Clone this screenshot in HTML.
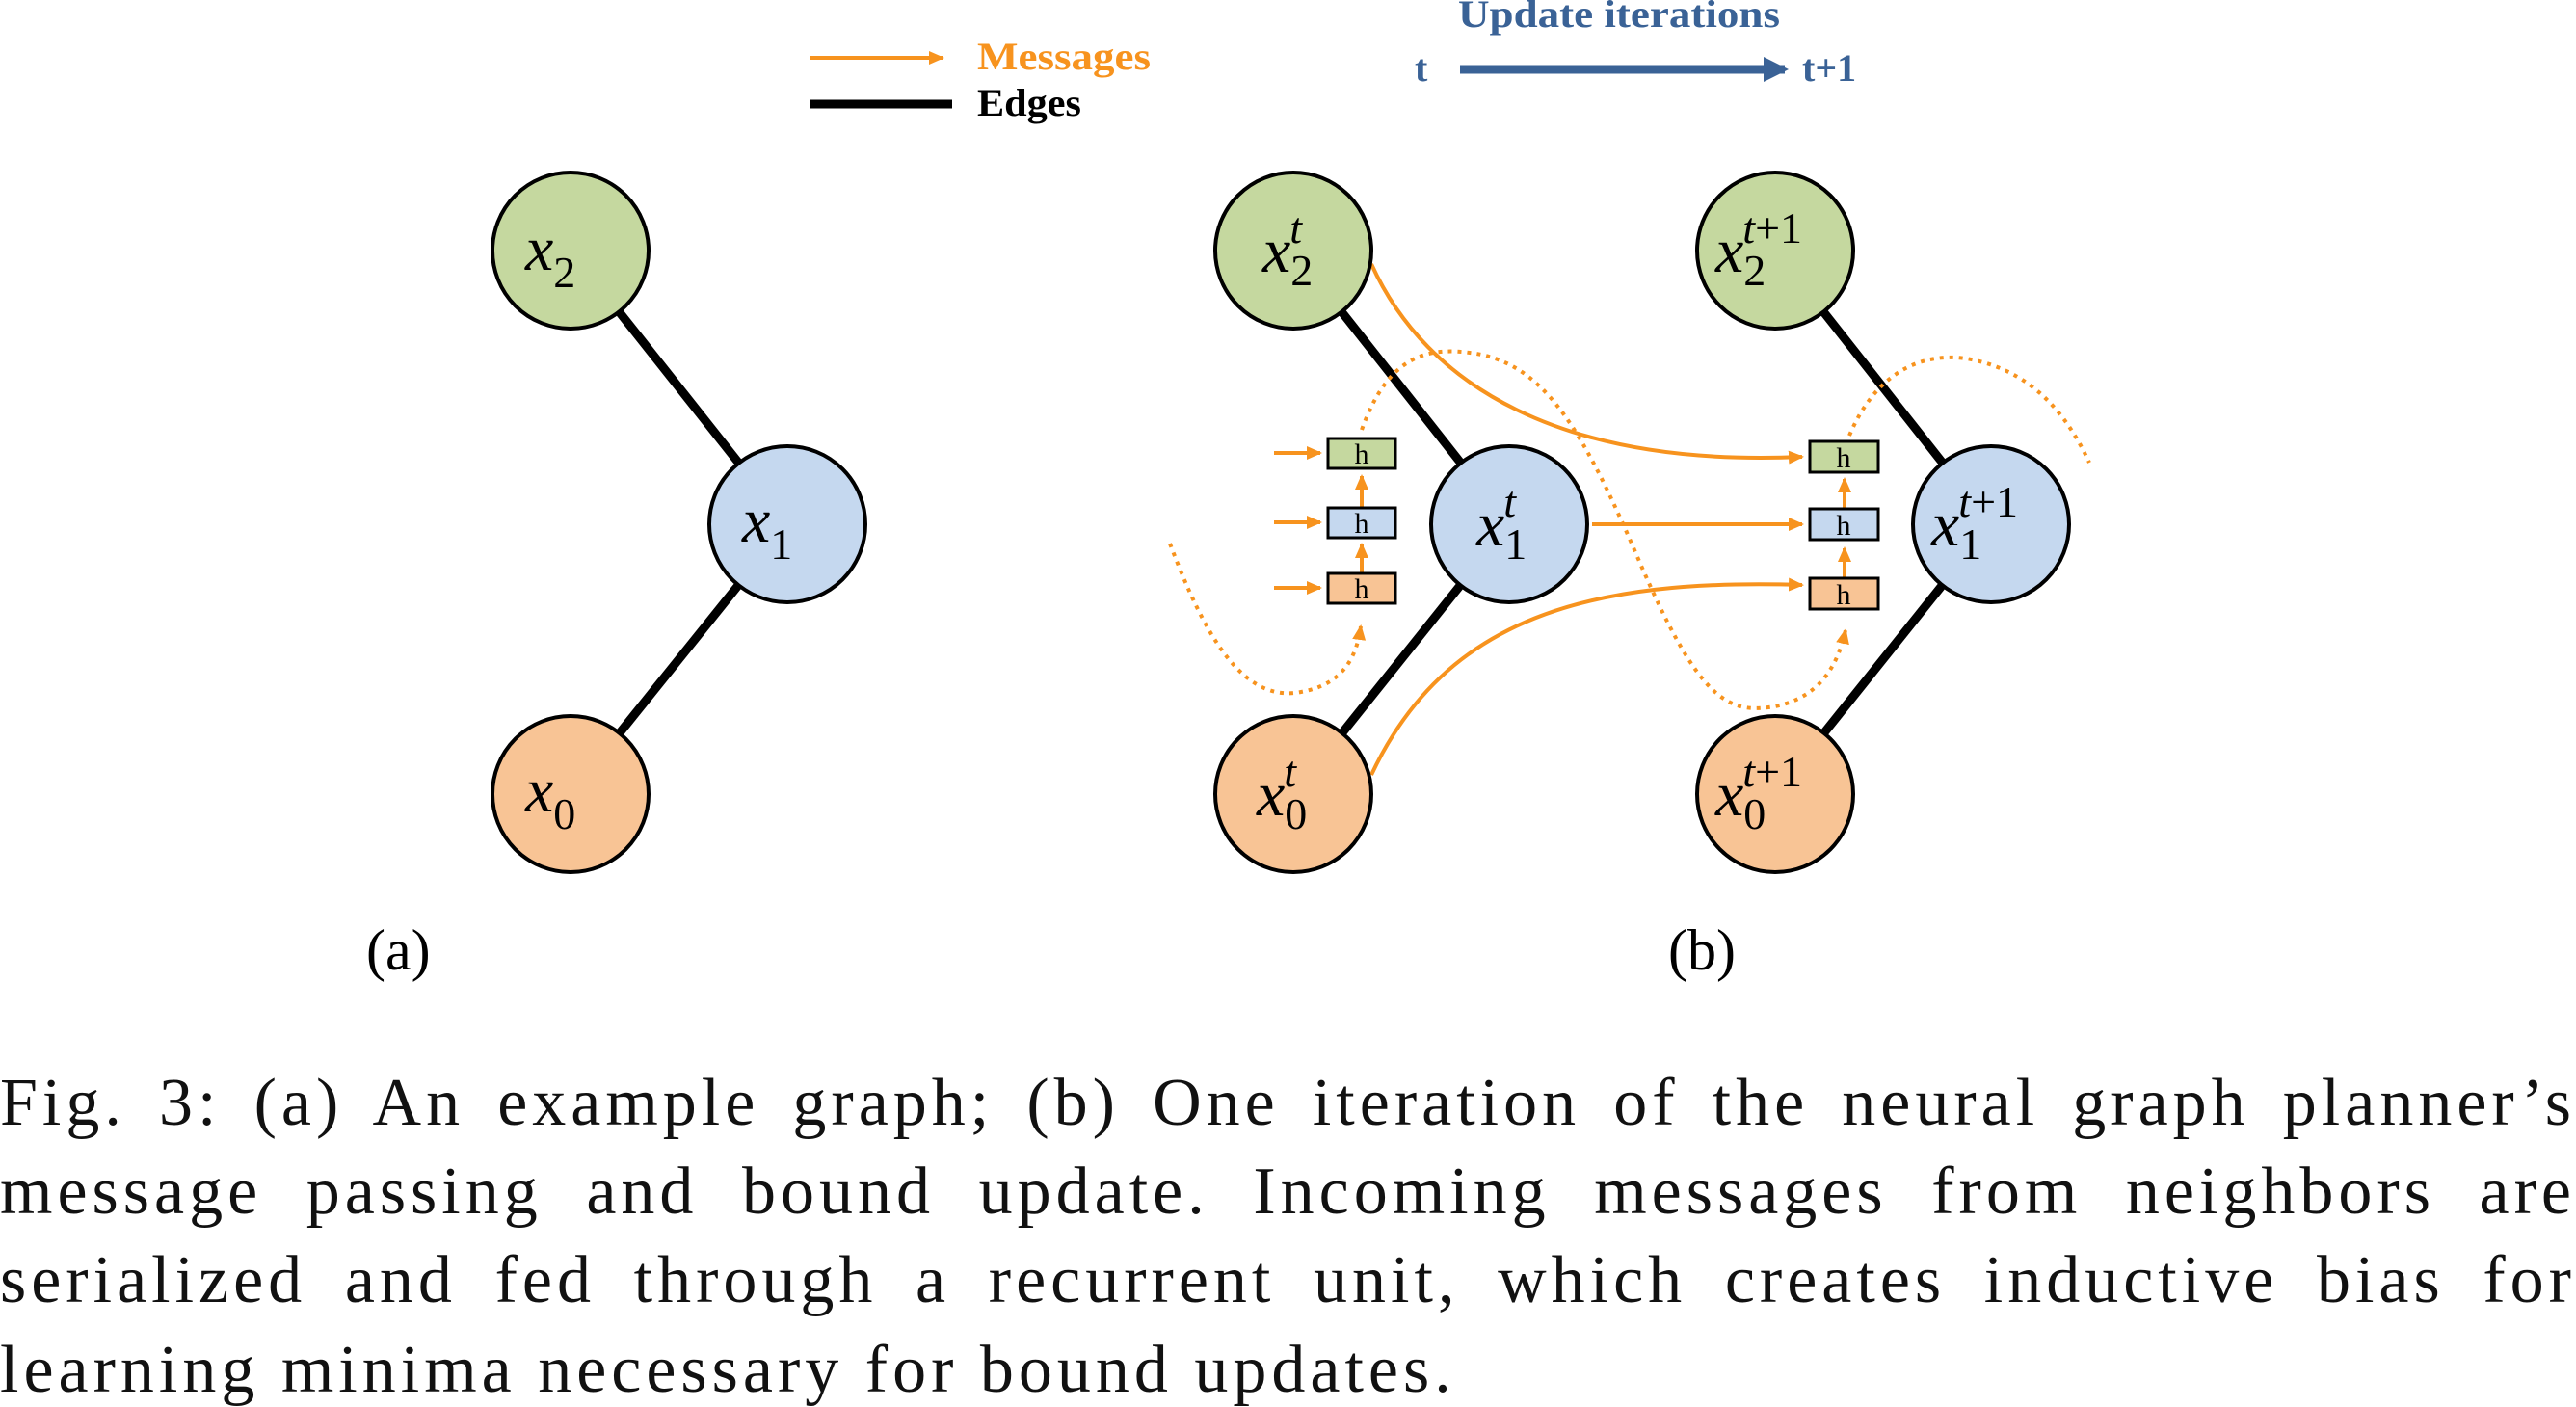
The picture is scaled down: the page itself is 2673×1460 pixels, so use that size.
<!DOCTYPE html>
<html><head><meta charset="utf-8"><style>
html,body{margin:0;padding:0;background:#fff;}
body{width:2673px;height:1459px;overflow:hidden;position:relative;}
.cap{position:absolute;left:0;width:2673px;font-family:"Liberation Serif",serif;font-size:70px;letter-spacing:5px;color:#111;line-height:1;white-space:nowrap;}
.j{text-align:justify;text-align-last:justify;white-space:normal;}
</style></head><body>
<svg width="2673" height="1100" style="position:absolute;left:0;top:0" xmlns="http://www.w3.org/2000/svg">
<defs>
<marker id="oa2" markerWidth="16" markerHeight="16" refX="14" refY="8" orient="auto" markerUnits="userSpaceOnUse"><path d="M0,1 L16,8 L0,15 z" fill="#f7931e"/></marker>
<marker id="ba" markerWidth="26" markerHeight="26" refX="22" refY="13" orient="auto" markerUnits="userSpaceOnUse"><path d="M0,0 L26,13 L0,26 z" fill="#3a6296"/></marker>
</defs>
<line x1="841" y1="60" x2="978" y2="60" stroke="#f7931e" stroke-width="4" marker-end="url(#oa2)"/>
<text x="1014" y="72" font-family="Liberation Serif" font-weight="bold" font-size="40" fill="#f7931e" textLength="180" lengthAdjust="spacingAndGlyphs">Messages</text>
<line x1="841" y1="108" x2="988" y2="108" stroke="#000" stroke-width="9"/>
<text x="1014" y="120" font-family="Liberation Serif" font-weight="bold" font-size="40" fill="#000" textLength="108" lengthAdjust="spacingAndGlyphs">Edges</text>
<text x="1513" y="28" font-family="Liberation Serif" font-weight="bold" font-size="40" fill="#3a6296" textLength="334" lengthAdjust="spacingAndGlyphs">Update iterations</text>
<text x="1468" y="84" font-family="Liberation Serif" font-weight="bold" font-size="40" fill="#3a6296">t</text>
<line x1="1515" y1="72" x2="1852" y2="72" stroke="#3a6296" stroke-width="9" marker-end="url(#ba)"/>
<text x="1870" y="84" font-family="Liberation Serif" font-weight="bold" font-size="40" fill="#3a6296">t+1</text>

<g stroke="#000" stroke-width="9">
<line x1="592" y1="260" x2="817" y2="544"/><line x1="817" y1="544" x2="592" y2="824"/>
</g>
<g stroke="#000" stroke-width="4">
<circle cx="592" cy="260" r="81" fill="#c5d89f"/>
<circle cx="817" cy="544" r="81" fill="#c5d8ef"/>
<circle cx="592" cy="824" r="81" fill="#f8c495"/>
</g>
<g font-family="Liberation Serif" font-style="italic" font-size="66" fill="#000">
<text x="545" y="280">x<tspan font-style="normal" font-size="46" dy="18">2</tspan></text>
<text x="770" y="562">x<tspan font-style="normal" font-size="46" dy="18">1</tspan></text>
<text x="545" y="842">x<tspan font-style="normal" font-size="46" dy="18">0</tspan></text>
</g>
<text x="380" y="1006" font-family="Liberation Serif" font-size="60">(a)</text>
<text x="1731" y="1006" font-family="Liberation Serif" font-size="60">(b)</text>

<g stroke="#000" stroke-width="9">
<line x1="1342" y1="260" x2="1566" y2="544"/><line x1="1566" y1="544" x2="1342" y2="824"/>
<line x1="1842" y1="260" x2="2066" y2="544"/><line x1="2066" y1="544" x2="1842" y2="824"/>
</g>
<g fill="none" stroke="#f7931e" stroke-width="4" stroke-dasharray="4,6">
<path d="M1214,564 C1250,660 1290,730 1350,718 C1395,710 1408,680 1412,650" marker-end="url(#oa2)"/>
<path d="M1413,446 C1440,370 1480,360 1525,366 C1600,375 1640,440 1700,580 C1760,720 1790,740 1835,734 C1880,728 1905,700 1915,654" marker-end="url(#oa2)"/>
<path d="M1919,452 C1945,390 1990,365 2040,372 C2100,382 2140,420 2168,480"/>
</g>
<g fill="none" stroke="#f7931e" stroke-width="4">
<path d="M1423,274 C1480,400 1620,485 1870,474" marker-end="url(#oa2)"/>
<path d="M1652,544 L1870,544" marker-end="url(#oa2)"/>
<path d="M1423,804 C1500,640 1650,600 1870,607" marker-end="url(#oa2)"/>
<path d="M1322,470 L1370,470" marker-end="url(#oa2)"/>
<path d="M1322,542 L1370,542" marker-end="url(#oa2)"/>
<path d="M1322,610 L1370,610" marker-end="url(#oa2)"/>
<path d="M1413,595 L1413,565" marker-end="url(#oa2)"/>
<path d="M1413,527 L1413,494" marker-end="url(#oa2)"/>
<path d="M1914,600 L1914,569" marker-end="url(#oa2)"/>
<path d="M1914,528 L1914,497" marker-end="url(#oa2)"/>
</g>
<g stroke="#000" stroke-width="3">
<rect x="1378" y="455" width="70" height="31" fill="#c5d89f"/>
<rect x="1378" y="527" width="70" height="31" fill="#c5d8ef"/>
<rect x="1378" y="595" width="70" height="31" fill="#f8c495"/>
<rect x="1878" y="458" width="71" height="32" fill="#c5d89f"/>
<rect x="1878" y="528" width="71" height="32" fill="#c5d8ef"/>
<rect x="1878" y="600" width="71" height="32" fill="#f8c495"/>
</g>
<g font-family="Liberation Serif" font-size="30" text-anchor="middle">
<text x="1413" y="481">h</text><text x="1413" y="553">h</text><text x="1413" y="621">h</text>
<text x="1913" y="485">h</text><text x="1913" y="555">h</text><text x="1913" y="627">h</text>
</g>
<g stroke="#000" stroke-width="4">
<circle cx="1342" cy="260" r="81" fill="#c5d89f"/>
<circle cx="1566" cy="544" r="81" fill="#c5d8ef"/>
<circle cx="1342" cy="824" r="81" fill="#f8c495"/>
<circle cx="1842" cy="260" r="81" fill="#c5d89f"/>
<circle cx="2066" cy="544" r="81" fill="#c5d8ef"/>
<circle cx="1842" cy="824" r="81" fill="#f8c495"/>
</g>
<g font-family="Liberation Serif" font-style="italic" font-size="66" fill="#000">
<text x="1310" y="282">x<tspan font-style="normal" font-size="46" dy="14">2</tspan><tspan font-size="46" dx="-24" dy="-44">t</tspan></text>
<text x="1532" y="566">x<tspan font-style="normal" font-size="46" dy="14">1</tspan><tspan font-size="46" dx="-24" dy="-44">t</tspan></text>
<text x="1304" y="846">x<tspan font-style="normal" font-size="46" dy="14">0</tspan><tspan font-size="46" dx="-24" dy="-44">t</tspan></text>
<text x="1780" y="282">x<tspan font-style="normal" font-size="46" dy="14">2</tspan><tspan font-size="46" dx="-24" dy="-44">t<tspan font-style="normal">+1</tspan></tspan></text>
<text x="2004" y="566">x<tspan font-style="normal" font-size="46" dy="14">1</tspan><tspan font-size="46" dx="-24" dy="-44">t<tspan font-style="normal">+1</tspan></tspan></text>
<text x="1780" y="846">x<tspan font-style="normal" font-size="46" dy="14">0</tspan><tspan font-size="46" dx="-24" dy="-44">t<tspan font-style="normal">+1</tspan></tspan></text>
</g>
</svg>
<div class="cap j" style="top:1110px">Fig. 3: (a) An example graph; (b) One iteration of the neural graph planner’s</div>
<div class="cap j" style="top:1202px">message passing and bound update. Incoming messages from neighbors are</div>
<div class="cap j" style="top:1294px">serialized and fed through a recurrent unit, which creates inductive bias for</div>
<div class="cap" style="top:1387px">learning minima necessary for bound updates.</div>
</body></html>
